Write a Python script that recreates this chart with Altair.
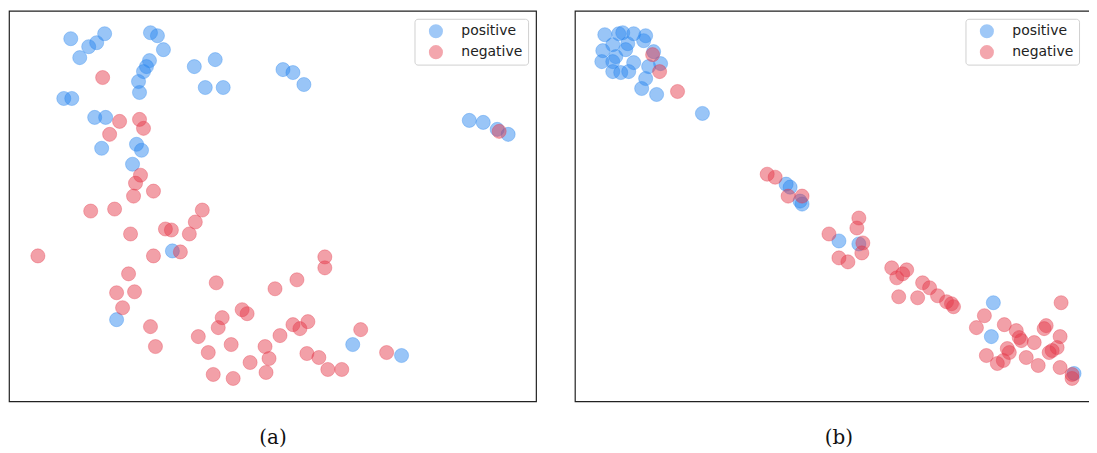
import altair as alt
import pandas as pd

# ---- panel (a) values (x to the right, y downward) ----
a_pos_x = [70, 79, 88, 96, 104, 150, 157, 163, 149, 146, 143, 138, 139, 194, 215, 205, 223,
           63, 71, 94, 105, 101, 136, 141, 132, 172, 116, 283, 293, 304, 470, 484, 498, 509, 353, 402]
a_pos_y = [37, 56, 45, 41, 32, 31, 34, 48, 59, 65, 70, 80, 91, 65, 58, 86, 86,
           97, 97, 116, 116, 147, 143, 149, 163, 250, 319, 68, 71, 83, 119, 121, 128, 133, 344, 355]
a_neg_x = [102, 119, 139, 143, 109, 140, 135, 153, 133, 90, 114, 202, 195, 189, 165, 171, 130, 37,
           153, 180, 128, 116, 134, 122, 150, 155, 216, 275, 242, 247, 222, 218, 198, 231, 208, 265,
           269, 250, 266, 213, 233, 280, 325, 325, 297, 308, 293, 300, 361, 387, 307, 319, 328, 342, 500]
a_neg_y = [76, 120, 118, 127, 133, 174, 182, 190, 195, 210, 208, 209, 221, 233, 228, 229, 233, 255,
           255, 251, 273, 292, 291, 307, 326, 346, 282, 288, 309, 313, 317, 327, 336, 344, 352, 346,
           358, 362, 372, 374, 378, 335, 256, 267, 279, 321, 324, 328, 329, 352, 353, 357, 369, 369, 130]

# ---- panel (b) values ----
b_pos_x = [604, 618, 622, 633, 645, 643, 612, 627, 602, 625, 615, 601, 612, 633, 612, 620, 628,
           653, 660, 648, 645, 641, 656, 702, 786, 790, 800, 802, 839, 859, 994, 992, 1075]
b_pos_y = [33, 32, 31, 32, 34, 39, 43, 42, 49, 48, 55, 60, 60, 61, 70, 71, 70,
           50, 62, 65, 77, 87, 93, 112, 183, 186, 200, 203, 240, 243, 302, 336, 373]
b_neg_x = [652, 659, 677, 767, 775, 788, 802, 859, 857, 829, 863, 862, 839, 848, 892, 897, 907, 903,
           899, 918, 923, 930, 938, 947, 952, 954, 1062, 985, 977, 1005, 1017, 1020, 1047, 1045, 1061,
           1035, 1027, 1008, 1010, 987, 998, 1039, 1050, 1053, 1058, 1061, 1073, 1073, 1004, 1022]
b_neg_y = [53, 70, 90, 173, 176, 195, 195, 217, 227, 233, 242, 252, 257, 261, 267, 277, 269, 273,
           296, 297, 282, 287, 295, 301, 303, 306, 302, 315, 327, 324, 330, 337, 325, 328, 336,
           342, 357, 348, 352, 355, 363, 365, 352, 350, 347, 367, 374, 378, 360, 340]

labels = ["positive", "negative"]
colors = ["#2a86ee", "#e4394a"]


def panel(px, py, nx, ny, xdom, ydom, caption, legend):
    df = pd.DataFrame({
        "x": px + nx,
        "y": py + ny,
        "label": [labels[0]] * len(px) + [labels[1]] * len(nx),
    })
    cscale = alt.Scale(domain=labels, range=colors)
    return alt.Chart(df).mark_point(
        filled=True, shape="circle", size=200, fillOpacity=0.48, strokeOpacity=0.35, strokeWidth=1
    ).encode(
        x=alt.X("x:Q", scale=alt.Scale(domain=xdom, nice=False, zero=False),
                axis=alt.Axis(title=caption, domain=False, ticks=False, labels=False, grid=False,
                              titleFont="DejaVu Serif", titleFontSize=20, titleFontWeight="normal",
                              titleColor="#111", titlePadding=26)),
        y=alt.Y("y:Q", scale=alt.Scale(domain=ydom, nice=False, zero=False, reverse=True), axis=None),
        color=alt.Color("label:N", scale=cscale, sort=labels, legend=legend),
        stroke=alt.Stroke("label:N", scale=cscale, sort=labels, legend=None),
    ).properties(width=529, height=392)


pa = panel(a_pos_x, a_pos_y, a_neg_x, a_neg_y, [8, 537], [9, 401], "(a)",
           alt.Legend(title=None, orient="top-right", offset=8))
pb = panel(b_pos_x, b_pos_y, b_neg_x, b_neg_y, [574, 1103], [9, 401], "(b)",
           alt.Legend(title=None, orient="none", legendX=392, legendY=8))

chart = alt.hconcat(pa, pb, spacing=37).resolve_scale(
    color="independent", stroke="independent"
).resolve_legend(color="independent").properties(
    padding={"left": 0, "top": 1, "right": -14, "bottom": 0}
).configure_view(
    stroke="#222", strokeWidth=1.2
).configure_legend(
    padding=5, fillColor="white", strokeColor="#d0d0d0", cornerRadius=3,
    labelFont="DejaVu Sans", labelFontSize=14, labelColor="#222", labelOffset=18,
    symbolSize=200, symbolType="circle", symbolOffset=9, rowPadding=6,
    symbolOpacity=0.45, symbolStrokeWidth=0
)

chart.save("out.html", embed_options={"renderer": "svg", "actions": False})
